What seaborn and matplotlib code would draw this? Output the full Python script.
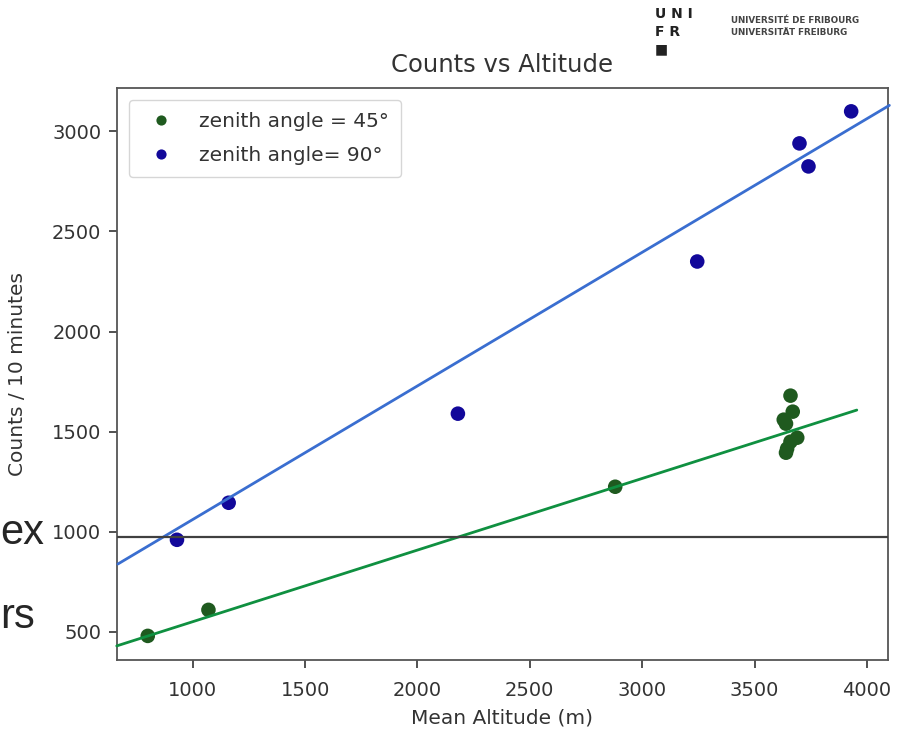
import matplotlib
matplotlib.use("Agg")
import matplotlib.pyplot as plt
import seaborn as sns
import pandas as pd

# data
alt_45 = [800, 1070, 2880, 3660, 3670, 3630, 3640, 3690, 3660, 3645, 3640]
cnt_45 = [480, 610, 1225, 1680, 1600, 1560, 1540, 1470, 1450, 1415, 1395]
alt_90 = [930, 1160, 2180, 3245, 3700, 3740, 3930]
cnt_90 = [960, 1145, 1590, 2350, 2940, 2825, 3100]
label_45 = "zenith angle = 45°"
label_90 = "zenith angle= 90°"

# annotation lines (drawn over the slide)
blue_line_x = [667, 4100]
blue_line_y = [839, 3130]
green_line_x = [662, 3955]
green_line_y = [430, 1608]
hline_y = 975

df = pd.DataFrame({
    "alt": alt_45 + alt_90,
    "cnt": cnt_45 + cnt_90,
    "grp": [label_45] * len(alt_45) + [label_90] * len(alt_90),
})

sns.set_style("ticks")
plt.rcParams["font.family"] = ["DejaVu Sans"]

fig = plt.figure(figsize=(9.05, 7.30), dpi=100)
ax = fig.add_axes([0.129, 0.096, 0.852, 0.783])

sns.scatterplot(data=df, x="alt", y="cnt", hue="grp",
                palette={label_45: "#1f5a1f", label_90: "#12089a"},
                s=110, linewidth=0, ax=ax, zorder=3)

ax.plot(blue_line_x, blue_line_y, color="#3a6ed0", lw=2, zorder=4, clip_on=False)
ax.plot(green_line_x, green_line_y, color="#0f9040", lw=2, zorder=4, clip_on=False)
ax.axhline(hline_y, color="#404040", lw=1.6, zorder=4)

ax.set_xlim(662, 4093)
ax.set_ylim(360, 3215)
ax.set_xticks([1000, 1500, 2000, 2500, 3000, 3500, 4000])
ax.set_yticks([500, 1000, 1500, 2000, 2500, 3000])
ax.tick_params(labelsize=14, colors="#333333", length=6, width=1.2)
ax.tick_params(axis="x", pad=9)
ax.tick_params(axis="y", pad=5)
for sp in ax.spines.values():
    sp.set_color("#555555")
    sp.set_linewidth(1.3)

ax.set_title("Counts vs Altitude", fontsize=17.5, color="#333333", pad=12)
ax.set_xlabel("Mean Altitude (m)", fontsize=14.5, color="#333333", labelpad=6)
ax.set_ylabel("Counts / 10 minutes", fontsize=14.5, color="#333333", labelpad=18)

leg = ax.legend(loc="upper left", fontsize=14.5, frameon=True,
                handletextpad=0.9, borderpad=0.6, labelspacing=0.7,
                markerscale=0.7, borderaxespad=0.6)
for t in leg.get_texts():
    t.set_color("#333333")

# slide remnants
fig.text(0.0, 0.270, "ex", fontsize=30, family="Liberation Sans", ha="left", va="center")
fig.text(0.0, 0.155, "rs", fontsize=30, family="Liberation Sans", ha="left", va="center")

# logo
fig.text(0.724, 0.990, "U N I", fontsize=10, weight="bold", ha="left", va="top", color="#222222")
fig.text(0.724, 0.966, "F R", fontsize=10, weight="bold", ha="left", va="top", color="#222222")
fig.text(0.724, 0.942, "■", fontsize=10, weight="bold", ha="left", va="top", color="#222222")
fig.text(0.808, 0.978, "UNIVERSITÉ DE FRIBOURG", fontsize=6.3, weight="bold", ha="left", va="top", color="#444444")
fig.text(0.808, 0.962, "UNIVERSITÄT FREIBURG", fontsize=6.3, weight="bold", ha="left", va="top", color="#444444")

fig.savefig("out.png", dpi=100)
